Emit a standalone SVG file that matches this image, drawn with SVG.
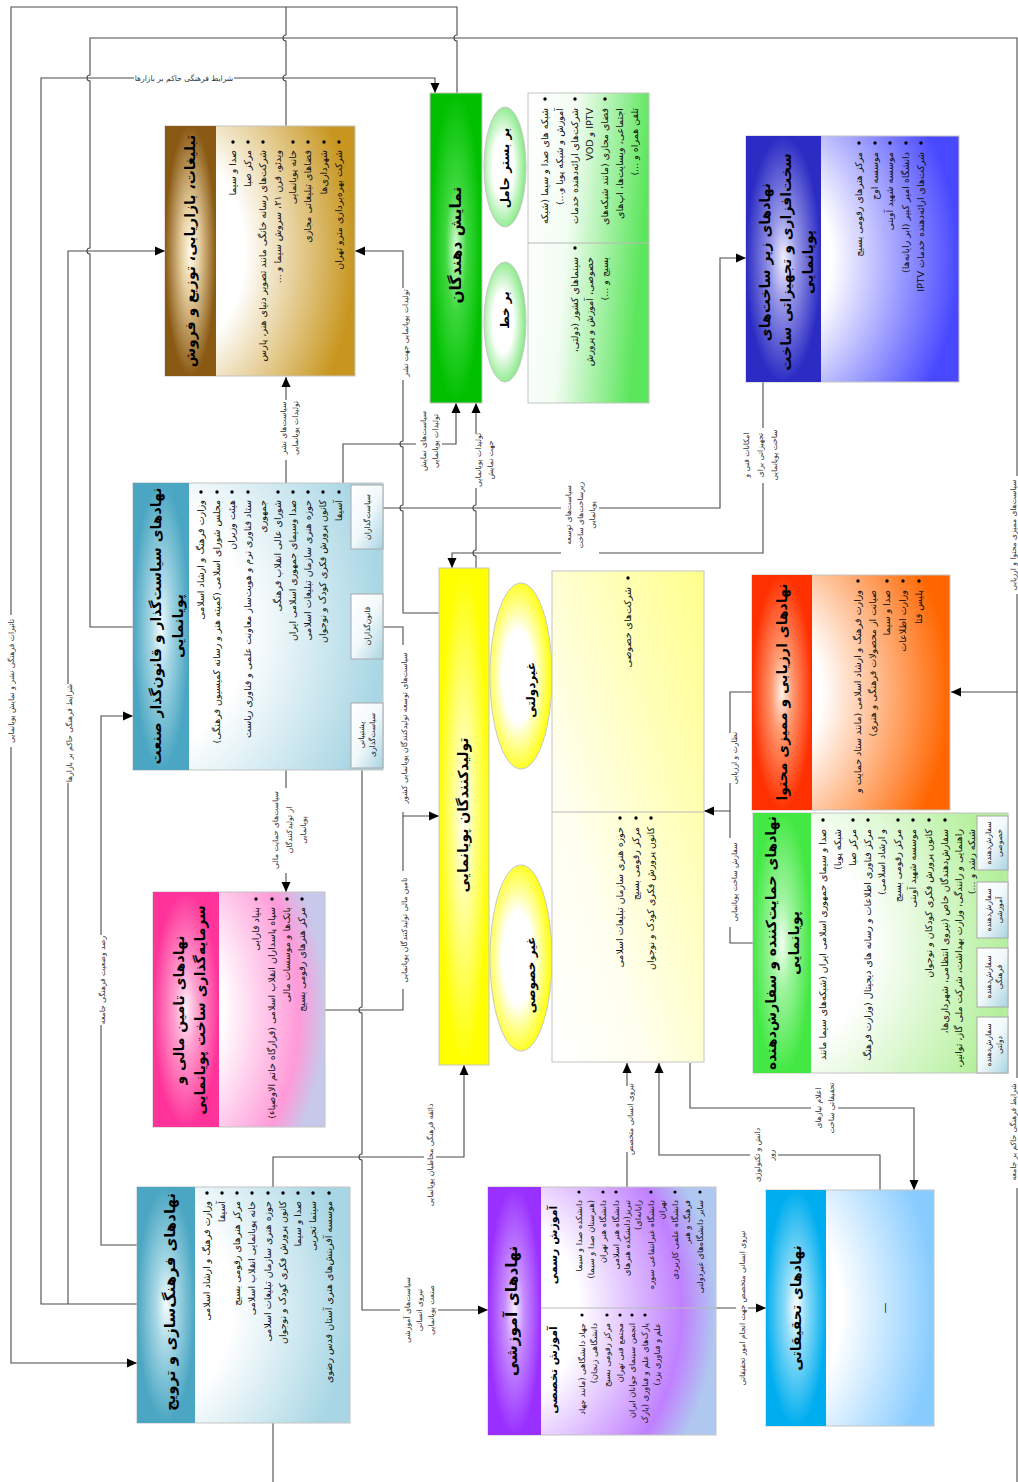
<svg xmlns="http://www.w3.org/2000/svg" width="1018" height="1482" viewBox="0 0 1018 1482">
<defs>
<style>
.ln{fill:none;stroke:#4a4a4a;stroke-width:1.1}
.ar{marker-end:url(#ah)}
.fr{stroke:#c4c4c4;stroke-width:1}
.tt{font-family:"DejaVu Sans",sans-serif;font-weight:bold;font-size:14px;fill:#000;text-anchor:middle}
.et{font-family:"DejaVu Sans",sans-serif;font-weight:bold;font-size:12px;fill:#000;text-anchor:middle}
.bt{font-family:"DejaVu Sans",sans-serif;font-size:9.5px;fill:#111;direction:rtl;text-anchor:start}
.be{font-family:"DejaVu Sans",sans-serif;font-size:8.3px;fill:#111;direction:rtl;text-anchor:start}
.sm{font-family:"DejaVu Sans",sans-serif;font-size:7.6px;fill:#222;text-anchor:middle}
.lb{font-family:"DejaVu Sans",sans-serif;font-size:7.6px;fill:#333;text-anchor:middle}
.bg{fill:#fff}
.dot{fill:#000}
.sb{fill:url(#gSmall);stroke:#a8a8a8;stroke-width:1}
.dv{stroke:#b8b8b8;stroke-width:1}
</style>
<marker id="ah" viewBox="0 0 10 10" refX="10" refY="5" markerWidth="10" markerHeight="10" markerUnits="userSpaceOnUse" orient="auto"><path d="M0,0.5 L10,5 L0,9.5 z" fill="#000"/></marker>
<linearGradient id="gSmall" x1="0" y1="0" x2="1" y2="1"><stop offset="0" stop-color="#fff"/><stop offset="0.5" stop-color="#f2f9fb"/><stop offset="1" stop-color="#a8d4e2"/></linearGradient>
<radialGradient id="hBrown" cx=".5" cy=".5" r=".5"><stop offset="0" stop-color="#fffaf0"/><stop offset=".35" stop-color="#e6cfa0"/><stop offset="1" stop-color="#8a5a14"/></radialGradient>
<radialGradient id="cBrown" cx="0" cy=".5" r="1"><stop offset="0" stop-color="#fff"/><stop offset=".42" stop-color="#fff"/><stop offset="1" stop-color="#c8961f"/></radialGradient>
<radialGradient id="hGreenD" cx=".5" cy=".5" r=".5"><stop offset="0" stop-color="#d8fcd8"/><stop offset=".4" stop-color="#3ed83e"/><stop offset="1" stop-color="#00c000"/></radialGradient>
<linearGradient id="cGreenD" x1="0" y1="0" x2="1" y2="0.2"><stop offset="0" stop-color="#fff"/><stop offset=".4" stop-color="#f2fdf2"/><stop offset="1" stop-color="#5ce65c"/></linearGradient>
<radialGradient id="hBlue" cx=".5" cy=".5" r=".5"><stop offset="0" stop-color="#f0f0ff"/><stop offset=".35" stop-color="#9a9ae8"/><stop offset="1" stop-color="#2c2cc4"/></radialGradient>
<radialGradient id="cBlue" cx="0" cy=".5" r="1"><stop offset="0" stop-color="#fff"/><stop offset=".4" stop-color="#fff"/><stop offset="1" stop-color="#4848ff"/></radialGradient>
<radialGradient id="hTeal" cx=".5" cy=".5" r=".5"><stop offset="0" stop-color="#f4fbfd"/><stop offset=".35" stop-color="#a8d8e6"/><stop offset="1" stop-color="#4aa6c2"/></radialGradient>
<radialGradient id="cTeal" cx="0" cy=".5" r="1"><stop offset="0" stop-color="#fff"/><stop offset=".45" stop-color="#fff"/><stop offset="1" stop-color="#a8d6e4"/></radialGradient>
<radialGradient id="hPink" cx=".5" cy=".5" r=".5"><stop offset="0" stop-color="#fff0f8"/><stop offset=".35" stop-color="#ffa0d0"/><stop offset="1" stop-color="#ff3399"/></radialGradient>
<radialGradient id="cPink" cx="0" cy=".5" r="1"><stop offset="0" stop-color="#fff"/><stop offset=".4" stop-color="#fff"/><stop offset=".85" stop-color="#ff9ad8"/><stop offset="1" stop-color="#c8c8ea"/></radialGradient>
<radialGradient id="hYellow" cx=".5" cy=".5" r=".5"><stop offset="0" stop-color="#fff"/><stop offset=".35" stop-color="#ffffa0"/><stop offset="1" stop-color="#ffff00"/></radialGradient>
<linearGradient id="cYellow" x1="0" y1="1" x2="1" y2="0"><stop offset="0" stop-color="#fff"/><stop offset=".3" stop-color="#fffff0"/><stop offset="1" stop-color="#ffff8c"/></linearGradient>
<radialGradient id="hOrange" cx=".5" cy=".5" r=".5"><stop offset="0" stop-color="#fff2ec"/><stop offset=".35" stop-color="#ff9a70"/><stop offset="1" stop-color="#ff3000"/></radialGradient>
<radialGradient id="cOrange" cx="0" cy=".5" r="1"><stop offset="0" stop-color="#fff"/><stop offset=".35" stop-color="#fff"/><stop offset="1" stop-color="#ff6600"/></radialGradient>
<radialGradient id="hGreenS" cx=".5" cy=".5" r=".5"><stop offset="0" stop-color="#f0fff0"/><stop offset=".35" stop-color="#a0f4a0"/><stop offset="1" stop-color="#44e844"/></radialGradient>
<radialGradient id="cGreenS" cx="0" cy=".5" r="1"><stop offset="0" stop-color="#fff"/><stop offset=".45" stop-color="#fff"/><stop offset="1" stop-color="#b4f09c"/></radialGradient>
<radialGradient id="hPurple" cx=".5" cy=".5" r=".5"><stop offset="0" stop-color="#f6eeff"/><stop offset=".35" stop-color="#c890ff"/><stop offset="1" stop-color="#9a30ff"/></radialGradient>
<radialGradient id="cPurple" cx="0" cy=".5" r="1"><stop offset="0" stop-color="#fff"/><stop offset=".4" stop-color="#fff"/><stop offset=".85" stop-color="#c080ff"/><stop offset="1" stop-color="#b0c8f0"/></radialGradient>
<radialGradient id="hCyan" cx=".5" cy=".5" r=".5"><stop offset="0" stop-color="#fff"/><stop offset=".35" stop-color="#90dcf8"/><stop offset="1" stop-color="#00aeef"/></radialGradient>
<radialGradient id="cCyan" cx="0" cy=".5" r="1"><stop offset="0" stop-color="#fff"/><stop offset=".45" stop-color="#fff"/><stop offset="1" stop-color="#88ccff"/></radialGradient>
<radialGradient id="eYellow" cx=".45" cy=".5" r=".55"><stop offset="0" stop-color="#fff"/><stop offset=".45" stop-color="#fff"/><stop offset="1" stop-color="#ffff00"/></radialGradient>
<radialGradient id="eGreen" cx=".45" cy=".5" r=".55"><stop offset="0" stop-color="#fff"/><stop offset=".45" stop-color="#fff"/><stop offset="1" stop-color="#80e880"/></radialGradient>
</defs>
<rect width="1018" height="1482" fill="#fff"/>

<g id="connectors">
<path class="ln ar" d="M457,93 V41 A3,3 0 0 1 457,35 V7 H11 V1363 H137"/>
<path class="ln" d="M286,126 V81 A3,3 0 0 1 286,75 V41 A3,3 0 0 1 286,35 V7"/>
<path class="ln" d="M133,627 H90 V254 A3,3 0 0 1 90,248 V81 A3,3 0 0 1 90,75 V38 H1017 V1482"/>
<path class="ln ar" d="M1017,692 H951"/>
<path class="ln ar" d="M137,1304 H41 V78 H435 V93"/>
<path class="ln ar" d="M68,1304 V251 H165"/>
<path class="ln ar" d="M137,1245 H101 V716 H133"/>
<path class="ln ar" d="M286,483 V377"/>
<path class="ln ar" d="M439,613 H403 V511 A3,3 0 0 1 403,505 V447 A3,3 0 0 1 403,441 V251 H355"/>
<path class="ln ar" d="M343,483 V444 H456 V403"/>
<path class="ln ar" d="M476,568 V556 A3,3 0 0 1 476,550 V511 A3,3 0 0 1 476,505 V403"/>
<path class="ln ar" d="M383,508 H720 V258 H746"/>
<path class="ln ar" d="M763,382 V553 H452 V568"/>
<path class="ln ar" d="M383,627 H403 V816 H439"/>
<path class="ln" d="M325,1010 H403 V816"/>
<path class="ln ar" d="M286,770 V892"/>
<path class="ln ar" d="M362,770 V1007 A3,3 0 0 0 362,1013 V1154 A3,3 0 0 0 362,1160 V1310 H488"/>
<path class="ln ar" d="M273,1187 V1157 H464 V1065"/>
<path class="ln ar" d="M752,692 H730 V811 H704"/>
<path class="ln" d="M753,943 H730 V811"/>
<path class="ln ar" d="M627,1187 V1063"/>
<path class="ln ar" d="M880,1190 V1155 H659 V1063"/>
<path class="ln ar" d="M690,1063 V1108 H914 V1190"/>
<path class="ln ar" d="M716,1308 H766"/>
<path class="ln" d="M273,1423 V1482"/>

<rect class="bg" x="6" y="615" width="11" height="132"/>
<text class="lb" transform="translate(13.5,681) rotate(-90)">تاثیرات فرهنگی نشر و نمایش پویانمایی</text>
<rect class="bg" x="134" y="73" width="100" height="10"/>
<text class="lb" x="184" y="80.5">شرایط فرهنگی حاکم بر بازارها</text>
<rect class="bg" x="63" y="684" width="12" height="99"/>
<text class="lb" transform="translate(71.5,733) rotate(-90)">شرایط فرهنگی حاکم بر بازارها</text>
<rect class="bg" x="96" y="935" width="12" height="90"/>
<text class="lb" transform="translate(104.5,980) rotate(-90)">رصد وضعیت فرهنگی جامعه</text>
<rect class="bg" x="277" y="400" width="24" height="60"/>
<text class="lb" transform="translate(285.5,428) rotate(-90)">سیاست‌های نشر</text>
<text class="lb" transform="translate(297.5,428) rotate(-90)">تولیدات پویانمایی</text>
<rect class="bg" x="399" y="288" width="12" height="92"/>
<text class="lb" transform="translate(407.5,333) rotate(-90)">تولیدات پویانمایی جهت نشر</text>
<rect class="bg" x="416" y="410" width="26" height="62"/>
<text class="lb" transform="translate(425.5,441) rotate(-90)">سیاست‌های نمایش</text>
<text class="lb" transform="translate(437.5,441) rotate(-90)">تولیدات پویانمایی</text>
<rect class="bg" x="471" y="434" width="25" height="54"/>
<text class="lb" transform="translate(480.5,460) rotate(-90)">تولیدات پویانمایی</text>
<text class="lb" transform="translate(492.5,460) rotate(-90)">جهت نمایش</text>
<rect class="bg" x="561" y="478" width="38" height="76"/>
<text class="lb" transform="translate(570.5,515) rotate(-90)">سیاست‌های توسعه</text>
<text class="lb" transform="translate(582.5,515) rotate(-90)">زیرساخت‌های ساخت</text>
<text class="lb" transform="translate(594.5,515) rotate(-90)">پویانمایی</text>
<rect class="bg" x="739" y="428" width="42" height="55"/>
<text class="lb" transform="translate(748.5,455) rotate(-90)">امکانات فنی و</text>
<text class="lb" transform="translate(762.5,455) rotate(-90)">تجهیزاتی برای</text>
<text class="lb" transform="translate(776.5,455) rotate(-90)">ساخت پویانمایی</text>
<rect class="bg" x="1007" y="476" width="11" height="118"/>
<text class="lb" transform="translate(1015.5,535) rotate(-90)">سیاست‌های ممیزی محتوا و ارزیابی</text>
<rect class="bg" x="1007" y="1078" width="11" height="110"/>
<text class="lb" transform="translate(1015.5,1132) rotate(-90)">شرایط فرهنگی حاکم بر جامعه</text>
<rect class="bg" x="398" y="645" width="12" height="167"/>
<text class="lb" transform="translate(406.5,728) rotate(-90)">سیاست‌های توسعه تولیدکنندگان پویانمایی کشور</text>
<rect class="bg" x="398" y="871" width="12" height="118"/>
<text class="lb" transform="translate(406.5,930) rotate(-90)">تامین مالی تولیدکنندگان پویانمایی</text>
<rect class="bg" x="268" y="788" width="40" height="85"/>
<text class="lb" transform="translate(277.5,830) rotate(-90)">سیاست‌های حمایت مالی</text>
<text class="lb" transform="translate(291.5,830) rotate(-90)">از تولیدکنندگان</text>
<text class="lb" transform="translate(305.5,830) rotate(-90)">پویانمایی</text>
<rect class="bg" x="424" y="1100" width="12" height="112"/>
<text class="lb" transform="translate(432.5,1155) rotate(-90)">ذائقه فرهنگی مخاطبان پویانمایی</text>
<rect class="bg" x="400" y="1278" width="38" height="64"/>
<text class="lb" transform="translate(409.5,1310) rotate(-90)">سیاست‌های آموزشی</text>
<text class="lb" transform="translate(421.5,1310) rotate(-90)">نیروی انسانی</text>
<text class="lb" transform="translate(433.5,1310) rotate(-90)">صنعت پویانمایی</text>
<rect class="bg" x="623" y="1086" width="12" height="66"/>
<text class="lb" transform="translate(632.5,1119) rotate(-90)">نیروی انسانی متخصص</text>
<rect class="bg" x="750" y="1126" width="28" height="58"/>
<text class="lb" transform="translate(759.5,1155) rotate(-90)">دانش و تکنولوژی</text>
<text class="lb" transform="translate(773.5,1155) rotate(-90)">روز</text>
<rect class="bg" x="811" y="1085" width="27" height="48"/>
<text class="lb" transform="translate(820.5,1108) rotate(-90)">اعلام نیازهای</text>
<text class="lb" transform="translate(833.5,1108) rotate(-90)">تحقیقاتی ساخت</text>
<rect class="bg" x="736" y="1228" width="12" height="161"/>
<text class="lb" transform="translate(744.5,1308) rotate(-90)">نیروی انسانی متخصص جهت انجام امور تحقیقاتی</text>
<rect class="bg" x="728" y="733" width="12" height="50"/>
<text class="lb" transform="translate(736.5,758) rotate(-90)">نظارت و ارزیابی</text>
<rect class="bg" x="728" y="838" width="12" height="89"/>
<text class="lb" transform="translate(736.5,882) rotate(-90)">سفارش ساخت پویانمایی</text>
</g>

<g id="node-marketing">
<rect class="fr" x="165" y="126" width="190" height="250" fill="url(#cBrown)"/>
<rect x="165" y="126" width="51" height="250" fill="url(#hBrown)"/>
<text class="tt" transform="translate(195,251) rotate(-90)">تبلیغات، بازاریابی، توزیع و فروش</text>
<circle class="dot" cx="233" cy="142" r="1.7"/><text class="bt" transform="translate(236,150) rotate(-90)">صدا و سیما</text>
<circle class="dot" cx="248" cy="142" r="1.7"/><text class="bt" transform="translate(251,150) rotate(-90)">مرکز صبا</text>
<circle class="dot" cx="263" cy="142" r="1.7"/><text class="bt" transform="translate(266,150) rotate(-90)">شرکت‌های رسانه خانگی مانند تصویر دنیای هنر، پارس</text>
<text class="bt" transform="translate(281,150) rotate(-90)">ویدئو، قرن ۲۱، سروش سیما و ...</text>
<circle class="dot" cx="293" cy="142" r="1.7"/><text class="bt" transform="translate(296,150) rotate(-90)">خانه پویانمایی</text>
<circle class="dot" cx="308" cy="142" r="1.7"/><text class="bt" transform="translate(311,150) rotate(-90)">فضاهای تبلیغاتی مجازی</text>
<circle class="dot" cx="324" cy="142" r="1.7"/><text class="bt" transform="translate(327,150) rotate(-90)">شهرداری‌ها</text>
<circle class="dot" cx="339" cy="142" r="1.7"/><text class="bt" transform="translate(342,150) rotate(-90)">شرکت بهره‌برداری مترو تهران</text>
</g>

<g id="node-exhibitors">
<rect class="fr" x="430" y="93" width="52" height="310" fill="url(#hGreenD)"/>
<text class="tt" style="font-size:15.5px" transform="translate(461,245) rotate(-90)">نمایش دهندگان</text>
<ellipse cx="505" cy="167" rx="21" ry="60" fill="url(#eGreen)" stroke="#c8c8c8"/>
<text class="et" transform="translate(509,168) rotate(-90)">بر بستر حامل</text>
<ellipse cx="505" cy="322" rx="21" ry="60" fill="url(#eGreen)" stroke="#c8c8c8"/>
<text class="et" transform="translate(509,310) rotate(-90)">بر خط</text>
<rect class="fr" x="528" y="93" width="121" height="310" fill="url(#cGreenD)"/>
<line class="dv" x1="528" y1="243" x2="649" y2="243"/>
<circle class="dot" cx="545" cy="99" r="1.7"/><text class="bt" transform="translate(548,108) rotate(-90)">شبکه های صدا و سیما (شبکه</text>
<text class="bt" transform="translate(563,108) rotate(-90)">آموزش و شبکه پویا و...)</text>
<circle class="dot" cx="575" cy="99" r="1.7"/><text class="bt" transform="translate(578,108) rotate(-90)">شرکت‌های ارائه‌دهنده خدمات</text>
<text class="bt" transform="translate(593,108) rotate(-90)">IPTV و VOD</text>
<circle class="dot" cx="605" cy="99" r="1.7"/><text class="bt" transform="translate(608,108) rotate(-90)">فضای مجازی (مانند شبکه‌های</text>
<text class="bt" transform="translate(623,108) rotate(-90)">اجتماعی، وبسایت‌ها، اپ‌های</text>
<text class="bt" transform="translate(638,108) rotate(-90)">تلفن همراه و ...)</text>
<circle class="dot" cx="575" cy="248" r="1.7"/><text class="bt" transform="translate(578,257) rotate(-90)">سینماهای کشور (دولتی،</text>
<text class="bt" transform="translate(593,257) rotate(-90)">خصوصی، آموزش و پرورش</text>
<text class="bt" transform="translate(608,257) rotate(-90)">بسیج و ...)</text>
</g>

<g id="node-infrastructure">
<rect class="fr" x="746" y="136" width="213" height="246" fill="url(#cBlue)"/>
<rect x="746" y="136" width="75" height="246" fill="url(#hBlue)"/>
<text class="tt" transform="translate(770,262) rotate(-90)">نهادهای زیر ساخت‌های</text>
<text class="tt" transform="translate(791,262) rotate(-90)">سخت‌افزاری و تجهیزاتی ساخت</text>
<text class="tt" transform="translate(813,262) rotate(-90)">پویانمایی</text>
<circle class="dot" cx="859" cy="143" r="1.7"/><text class="bt" transform="translate(862,152) rotate(-90)">مرکز هنرهای رقومی بسیج</text>
<circle class="dot" cx="875" cy="143" r="1.7"/><text class="bt" transform="translate(878,152) rotate(-90)">موسسه اوج</text>
<circle class="dot" cx="890" cy="143" r="1.7"/><text class="bt" transform="translate(893,152) rotate(-90)">موسسه شهید آوینی</text>
<circle class="dot" cx="906" cy="143" r="1.7"/><text class="bt" transform="translate(909,152) rotate(-90)">دانشگاه امیر کبیر (ابر رایانه‌ها)</text>
<circle class="dot" cx="921" cy="143" r="1.7"/><text class="bt" transform="translate(924,152) rotate(-90)">شرکت‌های ارائه‌دهنده خدمات IPTV</text>
</g>

<g id="node-policy">
<rect class="fr" x="133" y="483" width="250" height="287" fill="url(#cTeal)"/>
<rect x="133" y="483" width="56" height="287" fill="url(#hTeal)"/>
<text class="tt" transform="translate(161,626) rotate(-90)">نهادهای سیاست‌گذار و قانون‌گذار صنعت</text>
<text class="tt" transform="translate(183,626) rotate(-90)">پویانمایی</text>
<circle class="dot" cx="201" cy="492" r="1.7"/><text class="bt" transform="translate(204,500) rotate(-90)">وزارت فرهنگ و ارشاد اسلامی</text>
<circle class="dot" cx="217" cy="492" r="1.7"/><text class="bt" transform="translate(220,500) rotate(-90)">مجلس شورای اسلامی (کمیته هنر و رسانه کمیسیون فرهنگی)</text>
<circle class="dot" cx="232" cy="492" r="1.7"/><text class="bt" transform="translate(235,500) rotate(-90)">هیئت وزیران</text>
<circle class="dot" cx="248" cy="492" r="1.7"/><text class="bt" transform="translate(251,500) rotate(-90)">ستاد فناوری نرم و هویت‌ساز معاونت علمی و فناوری ریاست</text>
<text class="bt" transform="translate(266,500) rotate(-90)">جمهوری</text>
<circle class="dot" cx="278" cy="492" r="1.7"/><text class="bt" transform="translate(281,500) rotate(-90)">شورای عالی انقلاب فرهنگی</text>
<circle class="dot" cx="293" cy="492" r="1.7"/><text class="bt" transform="translate(296,500) rotate(-90)">صدا وسیمای جمهوری اسلامی ایران</text>
<circle class="dot" cx="308" cy="492" r="1.7"/><text class="bt" transform="translate(311,500) rotate(-90)">حوزه هنری سازمان تبلیغات اسلامی</text>
<circle class="dot" cx="323" cy="492" r="1.7"/><text class="bt" transform="translate(326,500) rotate(-90)">کانون پرورش فکری کودک و نوجوان</text>
<circle class="dot" cx="339" cy="492" r="1.7"/><text class="bt" transform="translate(342,500) rotate(-90)">آسیفا</text>
<rect class="sb" x="351" y="485" width="32" height="64"/>
<text class="sm" transform="translate(369.5,517) rotate(-90)">سیاست‌گذاران</text>
<rect class="sb" x="351" y="594" width="32" height="65"/>
<text class="sm" transform="translate(369.5,626) rotate(-90)">قانون‌گذاران</text>
<rect class="sb" x="351" y="703" width="32" height="65"/>
<text class="sm" transform="translate(364,735) rotate(-90)">پشتیبانی</text>
<text class="sm" transform="translate(375,735) rotate(-90)">سیاست‌گذاری</text>
</g>

<g id="node-finance">
<rect class="fr" x="153" y="892" width="172" height="235" fill="url(#cPink)"/>
<rect x="153" y="892" width="66" height="235" fill="url(#hPink)"/>
<text class="tt" transform="translate(184,1010) rotate(-90)">نهادهای تامین مالی و</text>
<text class="tt" transform="translate(205,1010) rotate(-90)">سرمایه‌گذاری ساخت پویانمایی</text>
<circle class="dot" cx="256" cy="899" r="1.7"/><text class="bt" transform="translate(259,907) rotate(-90)">بنیاد فارابی</text>
<circle class="dot" cx="272" cy="899" r="1.7"/><text class="bt" transform="translate(275,907) rotate(-90)">سپاه پاسداران انقلاب اسلامی (قرارگاه خاتم الاوصیاء)</text>
<circle class="dot" cx="287" cy="899" r="1.7"/><text class="bt" transform="translate(290,907) rotate(-90)">بانک‌ها و موسسات مالی</text>
<circle class="dot" cx="302" cy="899" r="1.7"/><text class="bt" transform="translate(305,907) rotate(-90)">مرکز هنرهای رقومی بسیج</text>
</g>

<g id="node-culture">
<rect class="fr" x="137" y="1187" width="213" height="236" fill="url(#cTeal)"/>
<rect x="137" y="1187" width="58" height="236" fill="url(#hTeal)"/>
<text class="tt" style="font-size:15px" transform="translate(175,1302) rotate(-90)">نهادهای فرهنگ‌سازی  و  ترویج</text>
<circle class="dot" cx="207" cy="1193" r="1.7"/><text class="bt" transform="translate(210,1201) rotate(-90)">وزارت فرهنگ و ارشاد اسلامی</text>
<circle class="dot" cx="222" cy="1193" r="1.7"/><text class="bt" transform="translate(225,1201) rotate(-90)">آسیفا</text>
<circle class="dot" cx="237" cy="1193" r="1.7"/><text class="bt" transform="translate(240,1201) rotate(-90)">مرکز هنرهای رقومی بسیج</text>
<circle class="dot" cx="252" cy="1193" r="1.7"/><text class="bt" transform="translate(255,1201) rotate(-90)">خانه پویانمایی انقلاب اسلامی</text>
<circle class="dot" cx="268" cy="1193" r="1.7"/><text class="bt" transform="translate(271,1201) rotate(-90)">حوزه هنری سازمان تبلیغات اسلامی</text>
<circle class="dot" cx="283" cy="1193" r="1.7"/><text class="bt" transform="translate(286,1201) rotate(-90)">کانون پرورش فکری کودک و نوجوان</text>
<circle class="dot" cx="298" cy="1193" r="1.7"/><text class="bt" transform="translate(301,1201) rotate(-90)">صدا و سیما</text>
<circle class="dot" cx="313" cy="1193" r="1.7"/><text class="bt" transform="translate(316,1201) rotate(-90)">سینما تجربی</text>
<circle class="dot" cx="329" cy="1193" r="1.7"/><text class="bt" transform="translate(332,1201) rotate(-90)">موسسه آفرینش‌های هنری آستان قدس رضوی</text>
</g>

<g id="node-producers">
<rect class="fr" x="439" y="568" width="50" height="497" fill="url(#hYellow)"/>
<text class="tt" transform="translate(468,815) rotate(-90)">تولیدکنندگان پویانمایی</text>
<ellipse cx="521" cy="676" rx="31" ry="93" fill="url(#eYellow)" stroke="#c8c8c8"/>
<text class="et" transform="translate(535,690) rotate(-90)">غیردولتی</text>
<ellipse cx="521" cy="958" rx="31" ry="93" fill="url(#eYellow)" stroke="#c8c8c8"/>
<text class="et" transform="translate(535,975) rotate(-90)">غیر خصوصی</text>
<rect class="fr" x="552" y="571" width="152" height="491" fill="url(#cYellow)"/>
<line class="dv" x1="552" y1="812" x2="704" y2="812"/>
<circle class="dot" cx="628" cy="578" r="1.7"/><text class="bt" transform="translate(631,587) rotate(-90)">شرکت‌های خصوصی</text>
<circle class="dot" cx="620" cy="818" r="1.7"/><text class="bt" transform="translate(623,827) rotate(-90)">حوزه هنری سازمان تبلیغات اسلامی</text>
<circle class="dot" cx="636" cy="818" r="1.7"/><text class="bt" transform="translate(639,827) rotate(-90)">مرکز رقومی بسیج</text>
<circle class="dot" cx="651" cy="818" r="1.7"/><text class="bt" transform="translate(654,827) rotate(-90)">کانون پرورش فکری کودک و نوجوان</text>
</g>

<g id="node-evaluation">
<rect class="fr" x="752" y="575" width="198" height="235" fill="url(#cOrange)"/>
<rect x="752" y="575" width="60" height="235" fill="url(#hOrange)"/>
<text class="tt" transform="translate(787,692) rotate(-90)">نهادهای ارزیابی و ممیزی محتوا</text>
<circle class="dot" cx="858" cy="581" r="1.7"/><text class="bt" transform="translate(861,590) rotate(-90)">وزارت فرهنگ و ارشاد اسلامی (مانند ستاد حمایت و</text>
<text class="bt" transform="translate(876,590) rotate(-90)">صیانت از محصولات فرهنگی و هنری)</text>
<circle class="dot" cx="887" cy="581" r="1.7"/><text class="bt" transform="translate(890,590) rotate(-90)">صدا و سیما</text>
<circle class="dot" cx="903" cy="581" r="1.7"/><text class="bt" transform="translate(906,590) rotate(-90)">وزارت اطلاعات</text>
<circle class="dot" cx="919" cy="581" r="1.7"/><text class="bt" transform="translate(922,590) rotate(-90)">پلیس فتا</text>
</g>

<g id="node-sponsors">
<rect class="fr" x="753" y="813" width="255" height="260" fill="url(#cGreenS)"/>
<rect x="753" y="813" width="58" height="260" fill="url(#hGreenS)"/>
<text class="tt" transform="translate(776,943) rotate(-90)">نهادهای حمایت‌کننده و سفارش‌دهنده</text>
<text class="tt" transform="translate(799,943) rotate(-90)">پویانمایی</text>
<circle class="dot" cx="823" cy="820" r="1.7"/><text class="bt" transform="translate(826,829) rotate(-90)">صدا و سیمای جمهوری اسلامی ایران (شبکه‌های سیما مانند</text>
<text class="bt" transform="translate(841,829) rotate(-90)">شبکه پویا)</text>
<circle class="dot" cx="853" cy="820" r="1.7"/><text class="bt" transform="translate(856,829) rotate(-90)">مرکز صبا</text>
<circle class="dot" cx="868" cy="820" r="1.7"/><text class="bt" transform="translate(871,829) rotate(-90)">مرکز فناوری اطلاعات و رسانه های دیجیتال (وزارت فرهنگ</text>
<text class="bt" transform="translate(885,829) rotate(-90)">و ارشاد اسلامی)</text>
<circle class="dot" cx="898" cy="820" r="1.7"/><text class="bt" transform="translate(901,829) rotate(-90)">مرکز رقومی بسیج</text>
<circle class="dot" cx="913" cy="820" r="1.7"/><text class="bt" transform="translate(916,829) rotate(-90)">موسسه شهید آوینی</text>
<circle class="dot" cx="929" cy="820" r="1.7"/><text class="bt" transform="translate(932,829) rotate(-90)">کانون پرورش فکری کودکان و نوجوان</text>
<circle class="dot" cx="945" cy="820" r="1.7"/><text class="bt" transform="translate(948,829) rotate(-90)">سفارش‌دهندگان خاص (نیروی انتظامی، شهرداری‌ها،</text>
<text class="bt" transform="translate(962,829) rotate(-90)">راهنمایی و رانندگی، وزارت بهداشت، شرکت ملی گاز، توانیر،</text>
<text class="bt" transform="translate(975,829) rotate(-90)">شبکه رشد و ...)</text>
<rect class="sb" x="977" y="816" width="31" height="54"/>
<text class="sm" transform="translate(991,843) rotate(-90)">سفارش‌دهنده</text>
<text class="sm" transform="translate(1002,843) rotate(-90)">خصوصی</text>
<rect class="sb" x="977" y="882" width="31" height="56"/>
<text class="sm" transform="translate(991,910) rotate(-90)">سفارش‌دهنده</text>
<text class="sm" transform="translate(1002,910) rotate(-90)">آموزشی</text>
<rect class="sb" x="977" y="948" width="31" height="59"/>
<text class="sm" transform="translate(991,977) rotate(-90)">سفارش‌دهنده</text>
<text class="sm" transform="translate(1002,977) rotate(-90)">فرهنگی</text>
<rect class="sb" x="977" y="1017" width="31" height="56"/>
<text class="sm" transform="translate(991,1045) rotate(-90)">سفارش‌دهنده</text>
<text class="sm" transform="translate(1002,1045) rotate(-90)">دولتی</text>
</g>

<g id="node-education">
<rect class="fr" x="488" y="1187" width="228" height="248" fill="url(#cPurple)"/>
<rect x="488" y="1187" width="53" height="248" fill="url(#hPurple)"/>
<text class="tt" style="font-size:15.5px" transform="translate(517,1311) rotate(-90)">نهادهای آموزشی</text>
<line class="dv" x1="541" y1="1308" x2="716" y2="1308"/>
<text class="et" style="font-size:11px" transform="translate(557,1245) rotate(-90)">آموزش رسمی</text>
<text class="et" style="font-size:11px" transform="translate(557,1370) rotate(-90)">آموزش تخصصی</text>
<circle class="dot" cx="579" cy="1192" r="1.6"/><text class="be" transform="translate(581.5,1200) rotate(-90)">دانشکده صدا و سیما</text>
<text class="be" transform="translate(593.5,1200) rotate(-90)">(هنرستان صدا و سیما)</text>
<circle class="dot" cx="603" cy="1192" r="1.6"/><text class="be" transform="translate(605.5,1200) rotate(-90)">دانشگاه هنر تهران</text>
<circle class="dot" cx="616" cy="1192" r="1.6"/><text class="be" transform="translate(618.5,1200) rotate(-90)">دانشگاه هنر اسلامی</text>
<text class="be" transform="translate(629.5,1200) rotate(-90)">تبریز(دانشکده هنرهای</text>
<text class="be" transform="translate(640.5,1200) rotate(-90)">رایانه‌ای)</text>
<circle class="dot" cx="651" cy="1192" r="1.6"/><text class="be" transform="translate(653.5,1200) rotate(-90)">دانشگاه غیرانتفاعی سوره</text>
<text class="be" transform="translate(664.5,1200) rotate(-90)">تهران</text>
<circle class="dot" cx="675" cy="1192" r="1.6"/><text class="be" transform="translate(677.5,1200) rotate(-90)">دانشگاه علمی کاربردی</text>
<text class="be" transform="translate(689.5,1200) rotate(-90)">فرهنگ و هنر</text>
<circle class="dot" cx="700" cy="1192" r="1.6"/><text class="be" transform="translate(702.5,1200) rotate(-90)">سایر دانشگاه‌های غیردولتی</text>
<circle class="dot" cx="582" cy="1315" r="1.6"/><text class="be" transform="translate(584.5,1323) rotate(-90)">جهاد دانشگاهی (مانند جهاد</text>
<text class="be" transform="translate(596.5,1323) rotate(-90)">دانشگاهی زنجان)</text>
<circle class="dot" cx="607" cy="1315" r="1.6"/><text class="be" transform="translate(609.5,1323) rotate(-90)">مرکز رقومی بسیج</text>
<circle class="dot" cx="620" cy="1315" r="1.6"/><text class="be" transform="translate(622.5,1323) rotate(-90)">مجتمع فنی تهران</text>
<circle class="dot" cx="632" cy="1315" r="1.6"/><text class="be" transform="translate(634.5,1323) rotate(-90)">انجمن سینمای جوانان ایران</text>
<circle class="dot" cx="645" cy="1315" r="1.6"/><text class="be" transform="translate(647.5,1323) rotate(-90)">پارک‌های علم و فناوری (پارک</text>
<text class="be" transform="translate(659.5,1323) rotate(-90)">علم و فناوری یزد)</text>
</g>

<g id="node-research">
<rect class="fr" x="766" y="1190" width="168" height="236" fill="url(#cCyan)"/>
<rect x="766" y="1190" width="60" height="236" fill="url(#hCyan)"/>
<text class="tt" transform="translate(801,1308) rotate(-90)">نهادهای تحقیقاتی</text>
<text class="bt" style="text-anchor:middle;direction:ltr;font-size:11px" transform="translate(887.5,1308) rotate(-90)">—</text>
</g>
</svg>
